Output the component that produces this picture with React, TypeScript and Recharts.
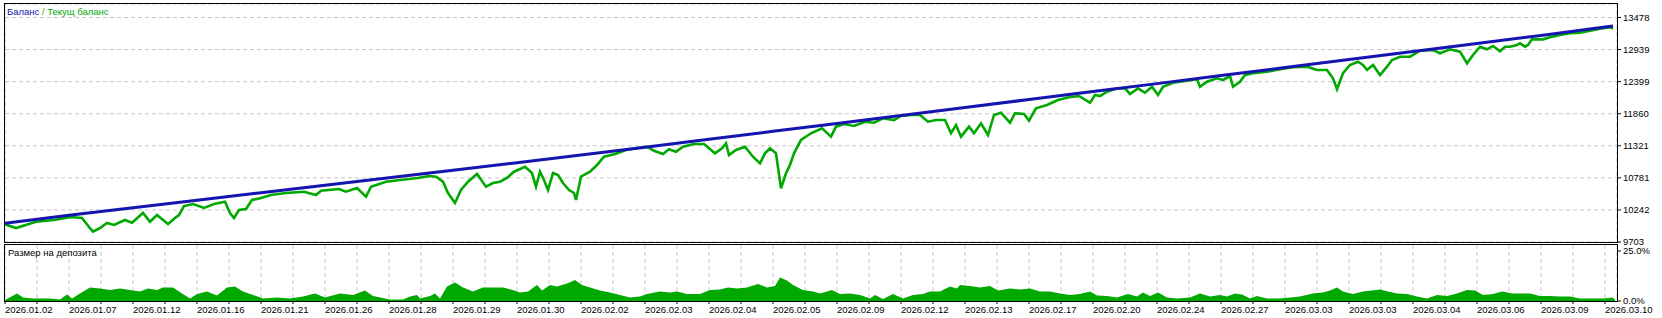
import React from "react";
import {
  ComposedChart,
  AreaChart,
  Line,
  Area,
  XAxis,
  YAxis,
  CartesianGrid,
} from "recharts";

const FONT = "'Liberation Sans', Arial, sans-serif";

const dateLabels = [
  "2026.01.02", "2026.01.07", "2026.01.12", "2026.01.16", "2026.01.21",
  "2026.01.26", "2026.01.28", "2026.01.29", "2026.01.30", "2026.02.02",
  "2026.02.03", "2026.02.04", "2026.02.05", "2026.02.09", "2026.02.12",
  "2026.02.13", "2026.02.17", "2026.02.20", "2026.02.24", "2026.02.27",
  "2026.03.03", "2026.03.03", "2026.03.04", "2026.03.06", "2026.03.09",
  "2026.03.10",
];

// grid every 32 deals, labels every 64
const gridTicks = Array.from({ length: 51 }, (_, i) => i * 32);

const balanceTicks = [9703, 10242, 10781, 11321, 11860, 12399, 12939, 13478];
const loadTicks = [0, 25];

const balanceDeals = [
  0, 64, 128, 192, 256, 320, 384, 448, 512, 576, 640, 704, 768, 832, 896,
  960, 1024, 1088, 1152, 1216, 1280, 1344, 1408, 1472, 1536, 1600, 1608,
];
const balanceValues = [
  10020, 10154, 10280, 10406, 10532, 10658, 10784, 10910, 11036, 11164, 11297,
  11432, 11564, 11697, 11832, 11965, 12099, 12232, 12366, 12501, 12636, 12770,
  12905, 13039, 13177, 13317, 13335,
];

const equityDeals = [
  0, 11, 31, 49, 66, 77, 84, 88, 95, 102, 109, 120, 127, 138, 145, 152, 163,
  170, 174, 179, 188, 199, 209, 220, 225, 229, 234, 241, 247, 256, 266, 281,
  299, 311, 316, 334, 341, 352, 361, 366, 381, 395, 413, 424, 431, 438, 443,
  450, 456, 463, 472, 481, 488, 495, 502, 509, 520, 527, 531, 535, 539, 543,
  548, 553, 558, 564, 569, 571, 576, 585, 592, 599, 610, 621, 631, 642, 649,
  658, 664, 671, 678, 689, 699, 710, 717, 721, 724, 731, 740, 748, 755, 760,
  765, 771, 776, 781, 785, 789, 796, 806, 817, 826, 831, 839, 849, 860, 869,
  878, 889, 896, 906, 915, 923, 931, 940, 946, 951, 956, 964, 969, 976, 983,
  989, 996, 1005, 1010, 1019, 1024, 1031, 1042, 1053, 1064, 1074, 1085, 1090,
  1095, 1102, 1112, 1120, 1125, 1133, 1140, 1147, 1153, 1158, 1168, 1182,
  1192, 1195, 1202, 1212, 1218, 1225, 1228, 1235, 1240, 1248, 1262, 1275,
  1288, 1302, 1312, 1322, 1328, 1332, 1338, 1345, 1353, 1358, 1362, 1368,
  1375, 1382, 1387, 1395, 1405, 1415, 1428, 1435, 1445, 1455, 1462, 1468,
  1475, 1482, 1488, 1495, 1500, 1505, 1512, 1515, 1520, 1523, 1527, 1538,
  1545, 1555, 1565, 1575, 1585, 1595, 1605, 1608,
];
const equityValues = [
  10000, 9938, 10044, 10073, 10123, 10107, 9955, 9876, 9938, 10022, 9989,
  10073, 10028, 10191, 10044, 10157, 10006, 10107, 10157, 10308, 10342, 10275,
  10342, 10381, 10191, 10107, 10241, 10258, 10409, 10443, 10493, 10527, 10549,
  10493, 10566, 10594, 10549, 10611, 10465, 10633, 10717, 10746, 10779, 10813,
  10801, 10717, 10527, 10359, 10577, 10717, 10846, 10633, 10695, 10717, 10779,
  10885, 10969, 10863, 10633, 10885, 10746, 10577, 10863, 10830, 10695, 10577,
  10527, 10409, 10801, 10885, 10998, 11137, 11183, 11250, 11279, 11305, 11238,
  11183, 11262, 11221, 11305, 11351, 11351, 11194, 11279, 11363, 11166, 11250,
  11305, 11137, 11026, 11194, 11279, 11194, 10606, 10858, 10998, 11194, 11418,
  11531, 11615, 11474, 11642, 11687, 11654, 11726, 11709, 11783, 11754, 11822,
  11839, 11839, 11726, 11754, 11754, 11531, 11670, 11474, 11642, 11531, 11699,
  11502, 11839, 11877, 11709, 11867, 11855, 11743, 11951, 12007, 12091, 12136,
  12158, 12045, 12175, 12158, 12230, 12287, 12287, 12192, 12287, 12213, 12314,
  12175, 12314, 12382, 12415, 12439, 12314, 12398, 12456, 12427, 12494, 12314,
  12398, 12511, 12540, 12567, 12607, 12641, 12651, 12595, 12595, 12456, 12271,
  12540, 12679, 12735, 12679, 12595, 12679, 12511, 12651, 12763, 12819, 12819,
  12920, 12931, 12876, 12943, 12903, 12708, 12847, 12987, 12943, 12999, 12910,
  12987, 12987, 13016, 13044, 12987, 13016, 13111, 13111, 13145, 13184, 13212,
  13222, 13256, 13290, 13313, 13290,
];

const loadDeals = [
  0, 12, 18, 28, 45, 55, 62, 67, 75, 85, 95, 105, 115, 125, 135, 143, 152, 158,
  168, 177, 185, 192, 202, 212, 222, 230, 238, 248, 258, 272, 285, 298, 310,
  320, 335, 348, 360, 368, 385, 398, 405, 412, 415, 425, 430, 435, 442, 450,
  458, 468, 478, 488, 498, 508, 515, 523, 532, 537, 545, 552, 562, 570, 577,
  585, 595, 605, 615, 625, 635, 642, 655, 665, 672, 682, 695, 705, 715, 723,
  732, 742, 753, 762, 770, 775, 782, 788, 798, 808, 815, 827, 835, 845, 855,
  865, 870, 878, 888, 898, 908, 918, 925, 935, 945, 952, 955, 965, 975, 985,
  993, 1005, 1015, 1025, 1035, 1045, 1055, 1065, 1075, 1085, 1092, 1102, 1112,
  1123, 1132, 1138, 1145, 1153, 1162, 1172, 1185, 1195, 1205, 1215, 1222,
  1230, 1237, 1245, 1252, 1262, 1275, 1285, 1295, 1308, 1318, 1325, 1332,
  1338, 1348, 1358, 1367, 1375, 1383, 1392, 1402, 1412, 1422, 1432, 1442,
  1452, 1462, 1470, 1478, 1488, 1497, 1507, 1517, 1525, 1535, 1545, 1555,
  1565, 1575, 1588, 1598, 1608, 1610,
];
const loadValues = [
  0.5, 3.8, 1.7, 1.3, 1.3, 0.8, 3.2, 1.3, 3.8, 6.8, 6.3, 5.5, 6.3, 5.5, 4.7,
  6.3, 5.5, 6.8, 6.8, 3.8, 1.3, 3.5, 4.7, 2.7, 6.8, 7.2, 4.7, 3.0, 1.3, 1.8,
  1.3, 2.2, 3.8, 1.7, 3.8, 3.0, 5.2, 2.5, 0.8, 0.8, 2.2, 3.0, 1.3, 2.5, 3.8,
  1.3, 7.2, 9.2, 6.8, 4.7, 6.8, 6.8, 6.8, 5.5, 4.2, 4.7, 8.0, 5.2, 8.0, 7.2,
  8.8, 10.5, 8.0, 6.8, 5.2, 4.2, 3.0, 1.7, 2.2, 3.5, 4.7, 4.2, 4.7, 3.5, 3.5,
  5.5, 5.8, 6.8, 6.3, 6.8, 8.5, 6.8, 7.5, 11.8, 10.2, 8.0, 5.5, 4.7, 3.8, 5.5,
  3.5, 3.8, 3.0, 1.3, 3.0, 1.0, 3.5, 1.3, 3.0, 3.5, 4.7, 4.7, 7.2, 6.3, 8.0,
  7.5, 6.8, 7.5, 5.2, 6.3, 5.8, 6.3, 4.7, 4.7, 3.8, 3.0, 3.5, 4.7, 2.7, 2.5,
  1.7, 3.5, 2.2, 4.2, 2.5, 4.3, 1.8, 1.3, 1.8, 3.8, 2.2, 3.0, 2.2, 3.8, 3.3,
  1.3, 2.5, 1.3, 1.3, 1.8, 2.2, 3.8, 4.2, 5.2, 6.8, 4.7, 3.5, 4.7, 5.2, 5.8,
  4.7, 3.8, 3.5, 2.2, 1.3, 3.0, 2.5, 3.8, 5.5, 5.2, 3.0, 3.5, 4.7, 3.8, 3.8,
  3.8, 2.5, 2.5, 2.2, 2.2, 1.3, 1.3, 1.3, 1.8, 0.5,
];

type MainRow = { deal: number; balance?: number; equity?: number };

const mainRows: MainRow[] = (() => {
  const byDeal = new Map<number, MainRow>();
  balanceDeals.forEach((d, i) => {
    const r = byDeal.get(d) ?? { deal: d };
    r.balance = balanceValues[i];
    byDeal.set(d, r);
  });
  equityDeals.forEach((d, i) => {
    const r = byDeal.get(d) ?? { deal: d };
    r.equity = equityValues[i];
    byDeal.set(d, r);
  });
  return [...byDeal.values()].sort((a, b) => a.deal - b.deal);
})();

const loadRows = loadDeals.map((d, i) => ({ deal: d, load: loadValues[i] }));

const WIDTH = 1662;
const TOP_H = 245;
const BOTTOM_H = 73;
const Y_AXIS_W = 45;
const DEAL_MAX = 1612;
// top svg runs a little past its plot so the lowest tick label is not clipped
const TOP_EXTRA = 8;

const GREEN = "#00a800";
const BLUE = "#1414b0";
const GRID = "#c8c8c8";

const DateTick = (props: any) => {
  const { x, y, payload } = props;
  const i = gridTicks.indexOf(payload.value);
  if (i < 0 || i % 2 !== 0) return <g />;
  return (
    <text
      x={x}
      y={y}
      dy="0.71em"
      textAnchor="start"
      fill="#000"
      fontSize={9.5}
      fontFamily={FONT}
    >
      {dateLabels[i / 2]}
    </text>
  );
};

const App: React.FC = () => {
  return (
    <div
      style={{
        position: "absolute",
        left: 0,
        top: 0,
        width: WIDTH,
        height: TOP_H + BOTTOM_H,
        background: "#fff",
        fontFamily: FONT,
      }}
    >
      <div style={{ position: "absolute", left: 0, top: 0 }}>
        <ComposedChart
          width={WIDTH}
          height={TOP_H + TOP_EXTRA}
          data={mainRows}
          margin={{ top: 4, right: 0, left: 5, bottom: 3 + TOP_EXTRA }}
        >
          <CartesianGrid stroke={GRID} strokeDasharray="4 3" />
          <XAxis
            type="number"
            dataKey="deal"
            domain={[0, DEAL_MAX]}
            ticks={gridTicks}
            height={0}
            tick={false}
            tickLine={false}
            axisLine={false}
            allowDataOverflow
          />
          <YAxis
            orientation="right"
            type="number"
            width={Y_AXIS_W}
            domain={[9703, 13705]}
            ticks={balanceTicks}
            interval={0}
            allowDataOverflow
            axisLine={false}
            tickSize={4}
            tickMargin={2}
            tickLine={{ stroke: "#000" }}
            tick={{ fill: "#000", fontSize: 9.5, fontFamily: FONT }}
          />
          <Line
            type="linear"
            dataKey="equity"
            stroke={GREEN}
            strokeWidth={2.6}
            dot={false}
            connectNulls
            isAnimationActive={false}
          />
          <Line
            type="linear"
            dataKey="balance"
            stroke={BLUE}
            strokeWidth={3}
            dot={false}
            connectNulls
            isAnimationActive={false}
          />
        </ComposedChart>
      </div>

      <div style={{ position: "absolute", left: 0, top: TOP_H }}>
        <AreaChart
          width={WIDTH}
          height={BOTTOM_H}
          data={loadRows}
          margin={{ top: 0, right: 0, left: 5, bottom: 0 }}
        >
          <CartesianGrid
            stroke={GRID}
            strokeDasharray="4 3"
            horizontal={false}
          />
          <XAxis
            type="number"
            dataKey="deal"
            domain={[0, DEAL_MAX]}
            ticks={gridTicks}
            interval={0}
            height={17}
            axisLine={false}
            tickSize={3}
            tickMargin={2}
            tickLine={{ stroke: "#000" }}
            tick={<DateTick />}
            allowDataOverflow
          />
          <YAxis
            orientation="right"
            type="number"
            width={Y_AXIS_W}
            domain={[0, 28]}
            ticks={loadTicks}
            interval={0}
            allowDataOverflow
            axisLine={false}
            tickSize={4}
            tickMargin={2}
            tickLine={{ stroke: "#000" }}
            tickFormatter={(v: number) => `${v.toFixed(1)}%`}
            tick={{ fill: "#000", fontSize: 9.5, fontFamily: FONT }}
          />
          <Area
            type="linear"
            dataKey="load"
            stroke="none"
            fill={GREEN}
            fillOpacity={1}
            isAnimationActive={false}
          />
        </AreaChart>
      </div>

      <svg
        width={WIDTH}
        height={TOP_H + BOTTOM_H}
        style={{ position: "absolute", left: 0, top: 0, pointerEvents: "none" }}
      >
        <rect x={4.5} y={3.5} width={1613} height={239} fill="none" stroke="#000" />
        <rect x={4.5} y={244.5} width={1613} height={57} fill="none" stroke="#000" />
        <text x={7} y={15} fontSize={9.5} fontFamily={FONT}>
          <tspan fill={BLUE}>Баланс</tspan>
          <tspan fill="#6a9a00"> / </tspan>
          <tspan fill={GREEN}>Текущ баланс</tspan>
        </text>
        <text x={8} y={256} fontSize={9.5} fontFamily={FONT} fill="#000">
          Размер на депозита
        </text>
      </svg>
    </div>
  );
};

export default App;
